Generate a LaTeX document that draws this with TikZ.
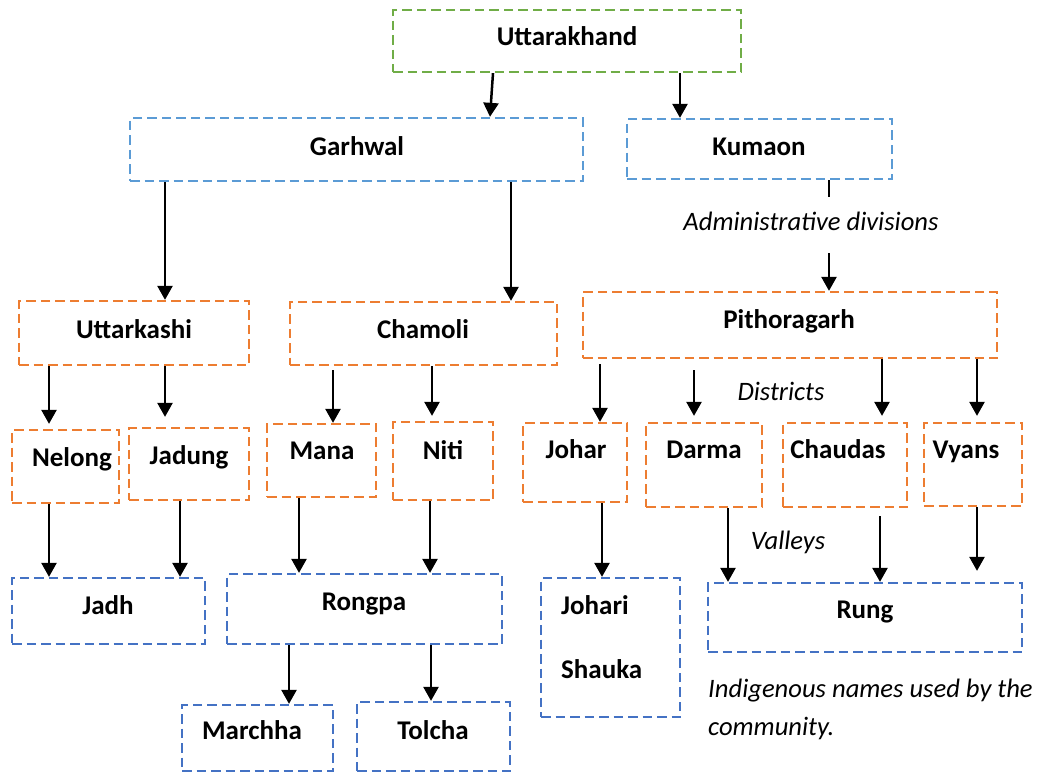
\documentclass[tikz,border=0pt]{standalone}
\usepackage{fontspec}
\setmainfont{Carlito}
\usetikzlibrary{arrows.meta}
\definecolor{cgreen}{HTML}{70AD47}
\definecolor{clblue}{HTML}{5B9BD5}
\definecolor{corange}{HTML}{ED7D31}
\definecolor{cdblue}{HTML}{4472C4}
\newcommand\mybox[6]{%
  \node[boxstyle, draw=#2, minimum width={(#5)-(#3)}, minimum height={(#6)-(#4)}]
    (#1) at ({((#3)+(#5))/2},{((#4)+(#6))/2}) {};}
\tikzset{
  boxstyle/.style={rectangle, inner sep=0pt, line width=2.3pt, dash pattern=on 9.5pt off 5pt},
  lbl/.style={font=\bfseries\fontsize{27}{31}\selectfont, inner sep=0pt, anchor=base},
  note/.style={font=\itshape\fontsize{26.6}{31}\selectfont, inner sep=0pt, anchor=base},
  arr/.style={line width=2.5pt, -{Triangle[width=15pt,length=14pt]}},
  seg/.style={line width=2.5pt}
}
\begin{document}
\begin{tikzpicture}[x=1pt,y=-1pt]
\useasboundingbox (0,0) rectangle (1042,774);
% boxes
\mybox{utt}{cgreen}{393}{10}{741}{72}
\mybox{garhwal}{clblue}{130}{118}{583}{181}
\mybox{kumaon}{clblue}{627}{119}{892}{179}
\mybox{uttarkashi}{corange}{19}{301}{249}{365}
\mybox{chamoli}{corange}{290}{302}{557}{365}
\mybox{pith}{corange}{583}{292}{997}{358}
\mybox{nelong}{corange}{12}{430}{119}{503}
\mybox{jadung}{corange}{129}{428}{249}{500}
\mybox{mana}{corange}{267}{424}{376}{497}
\mybox{niti}{corange}{393}{422}{493}{500}
\mybox{johar}{corange}{523}{423}{627}{502}
\mybox{darma}{corange}{646}{423}{762}{507}
\mybox{chaudas}{corange}{783}{423}{907}{507}
\mybox{vyans}{corange}{924}{423}{1022}{506}
\mybox{jadh}{cdblue}{12}{578}{205}{644}
\mybox{rongpa}{cdblue}{227}{574}{502}{644}
\mybox{johari}{cdblue}{541}{578}{680}{717}
\mybox{rung}{cdblue}{708}{583}{1022}{652}
\mybox{marchha}{cdblue}{182}{705}{333}{771}
\mybox{tolcha}{cdblue}{357}{702}{510}{771}
% texts
\node[lbl] (t-utt) at (567,45) {Uttarakhand};
\node[lbl] (t-garhwal) at (357,155) {Garhwal};
\node[lbl] (t-kumaon) at (759,155) {Kumaon};
\node[lbl] (t-uttarkashi) at (134,338) {Uttarkashi};
\node[lbl] (t-chamoli) at (423,338) {Chamoli};
\node[lbl] (t-pith) at (789,328) {Pithoragarh};
\node[lbl] (t-nelong) at (72,466) {Nelong};
\node[lbl] (t-jadung) at (189,464) {Jadung};
\node[lbl] (t-mana) at (322,459) {Mana};
\node[lbl] (t-niti) at (443,459) {Niti};
\node[lbl] (t-johar) at (576,458) {Johar};
\node[lbl] (t-darma) at (704,458) {Darma};
\node[lbl] (t-chaudas) at (838,458) {Chaudas};
\node[lbl] (t-vyans) at (966,458) {Vyans};
\node[lbl] (t-jadh) at (108,614) {Jadh};
\node[lbl] (t-rongpa) at (364,610) {Rongpa};
\node[lbl, anchor=base west] (t-johari) at (561,614) {Johari};
\node[lbl, anchor=base west] (t-shauka) at (561,678) {Shauka};
\node[lbl] (t-rung) at (865,618) {Rung};
\node[lbl] (t-marchha) at (252,739) {Marchha};
\node[lbl] (t-tolcha) at (433,739) {Tolcha};
\node[note] (n-admin) at (811,230) {Administrative divisions};
\node[note] (n-districts) at (781,400) {Districts};
\node[note] (n-valleys) at (788,549) {Valleys};
\node[note, anchor=base west] (n-ind1) at (708,697) {Indigenous names used by the};
\node[note, anchor=base west] (n-ind2) at (708,735) {community.};
% column coordinates
\foreach \c in {49,165,180,289,299,333,430,431,432,490,493,511,600,602,680,694,728,829,880,882,977}
  \coordinate (x\c) at (\c,0);
\coordinate (k1) at (829,197);
\coordinate (k2) at (829,253);
% arrows
\draw[arr] (utt.south -| x493) -- (garhwal.north -| x490);
\draw[arr] (utt.south -| x680) -- (kumaon.north -| x680);
\draw[arr] (garhwal.south -| x165) -- (uttarkashi.north -| x165);
\draw[arr] (garhwal.south -| x511) -- (chamoli.north -| x511);
\draw[seg] (kumaon.south -| x829) -- (k1);
\draw[arr] (k2) -- (pith.north -| x829);
\draw[arr, shorten >=5pt] (uttarkashi.south -| x49) -- (nelong.north -| x49);
\draw[arr, shorten >=10pt] (uttarkashi.south -| x165) -- (jadung.north -| x165);
\draw[arr, shorten <=4pt] (chamoli.south -| x333) -- (mana.north -| x333);
\draw[arr, shorten >=5pt] (chamoli.south -| x432) -- (niti.north -| x432);
\draw[arr, shorten <=5pt] (pith.south -| x600) -- (johar.north -| x600);
\draw[arr, shorten <=11pt, shorten >=6pt] (pith.south -| x694) -- (darma.north -| x694);
\draw[arr, shorten >=6pt] (pith.south -| x882) -- (chaudas.north -| x882);
\draw[arr, shorten >=6pt] (pith.south -| x977) -- (vyans.north -| x977);
\draw[arr] (nelong.south -| x49) -- (jadh.north -| x49);
\draw[arr] (jadung.south -| x180) -- (jadh.north -| x180);
\draw[arr] (mana.south -| x299) -- (rongpa.north -| x299);
\draw[arr] (niti.south -| x430) -- (rongpa.north -| x430);
\draw[arr] (johar.south -| x602) -- (johari.north -| x602);
\draw[arr] (darma.south -| x728) -- (rung.north -| x728);
\draw[arr, shorten <=8pt] (chaudas.south -| x880) -- (rung.north -| x880);
\draw[arr, shorten >=11pt] (vyans.south -| x977) -- (rung.north -| x977);
\draw[arr] (rongpa.south -| x289) -- (marchha.north -| x289);
\draw[arr] (rongpa.south -| x431) -- (tolcha.north -| x431);
\end{tikzpicture}
\end{document}
